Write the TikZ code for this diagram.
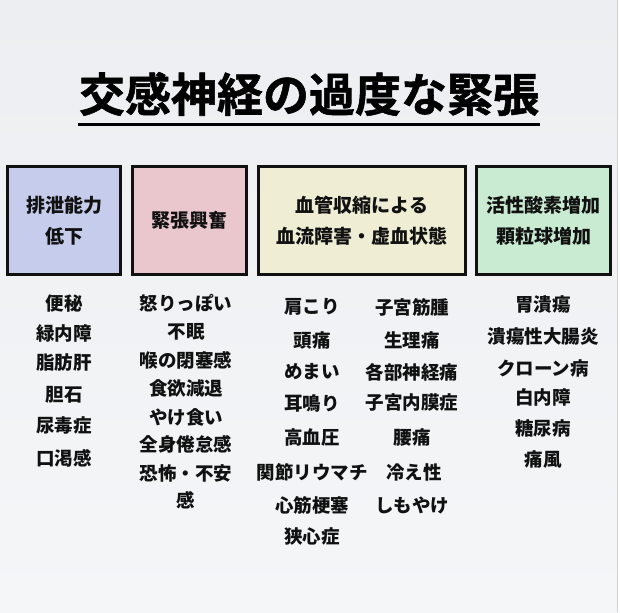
\documentclass[tikz,border=0pt]{standalone}
\usepackage{fontspec}
\setmainfont{Noto Sans CJK JP}
\newfontface\titlefont[FakeBold=1.2]{Noto Sans CJK JP Bold}
\definecolor{bgtop}{HTML}{ECEEF1}
\definecolor{bgbot}{HTML}{F4F6F8}
\definecolor{cblue}{HTML}{C6CCEB}
\definecolor{cpink}{HTML}{E9C7CD}
\definecolor{ccream}{HTML}{EFEDD4}
\definecolor{cgreen}{HTML}{C9EBD2}
\definecolor{edge}{HTML}{111111}
\definecolor{txt}{HTML}{111111}
\tikzset{
  catbox/.style={draw=edge, line width=3pt, minimum height=108pt, inner sep=0pt, align=center,
    text=txt, font=\bfseries\fontsize{19}{31}\selectfont},
  item/.style={inner sep=0pt, text=txt, font=\bfseries\fontsize{18.5}{22}\selectfont}
}
\begin{document}
\begin{tikzpicture}[x=1pt,y=-1pt]
\useasboundingbox (0,0) rectangle (620,612);
\shade[top color=bgtop, bottom color=bgbot] (0,0) rectangle (620,612);
\fill[white] (617.5,0) rectangle (620,612);
\draw[color=gray!35, line width=0.8pt] (617,0) -- (617,612);
% title
\node[inner sep=0pt, text=black, font=\titlefont\fontsize{46}{50}\selectfont] (title) at (309,94) {交感神経の過度な緊張};
\coordinate (ulA) at (78,125);
\coordinate (ulB) at (540,125);
\draw[line width=3pt, black] (ulA) -- (ulB);
% category boxes
\node[catbox, fill=cblue, minimum width=113pt] (b1) at (64,220.5) {排泄能力\\低下};
\node[catbox, fill=cpink, minimum width=114pt] (b2) at (189.5,220.5) {緊張興奮};
\node[catbox, fill=ccream, minimum width=207pt] (b3) at (362,220.5) {血管収縮による\\血流障害・虚血状態};
\node[catbox, fill=cgreen, minimum width=134pt] (b4) at (543.5,220.5) {活性酸素増加\\顆粒球増加};
% column 1
\node[item] (c1a) at (64,304) {便秘};
\node[item] (c1b) at (64,333) {緑内障};
\node[item] (c1c) at (64,363) {脂肪肝};
\node[item] (c1d) at (64,395) {胆石};
\node[item] (c1e) at (64,425) {尿毒症};
\node[item] (c1f) at (64,458) {口渇感};
% column 2
\node[item] (c2a) at (186,303) {怒りっぽい};
\node[item] (c2b) at (186,332) {不眠};
\node[item] (c2c) at (186,360) {喉の閉塞感};
\node[item] (c2d) at (186,388) {食欲減退};
\node[item] (c2e) at (186,417) {やけ食い};
\node[item] (c2f) at (186,444) {全身倦怠感};
\node[item] (c2g) at (186,473) {恐怖・不安};
\node[item] (c2h) at (186,500) {感};
% column 3 left
\node[item] (c3a) at (312,307) {肩こり};
\node[item] (c3b) at (312,340) {頭痛};
\node[item] (c3c) at (312,372) {めまい};
\node[item] (c3d) at (312,403) {耳鳴り};
\node[item] (c3e) at (312,437) {高血圧};
\node[item] (c3f) at (312,472) {関節リウマチ};
\node[item] (c3g) at (312,505) {心筋梗塞};
\node[item] (c3h) at (312,537) {狭心症};
% column 3 right
\node[item] (c3i) at (412,307) {子宮筋腫};
\node[item] (c3j) at (412,340) {生理痛};
\node[item] (c3k) at (412,372) {各部神経痛};
\node[item] (c3l) at (412,403) {子宮内膜症};
\node[item] (c3m) at (412,437) {腰痛};
\node[item] (c3n) at (414,472) {冷え性};
\node[item] (c3o) at (412,505) {しもやけ};
% column 4
\node[item] (c4a) at (543,305) {胃潰瘍};
\node[item] (c4b) at (543,337) {潰瘍性大腸炎};
\node[item] (c4c) at (543,368) {クローン病};
\node[item] (c4d) at (543,397) {白内障};
\node[item] (c4e) at (543,428) {糖尿病};
\node[item] (c4f) at (543,460) {痛風};
\end{tikzpicture}
\end{document}
